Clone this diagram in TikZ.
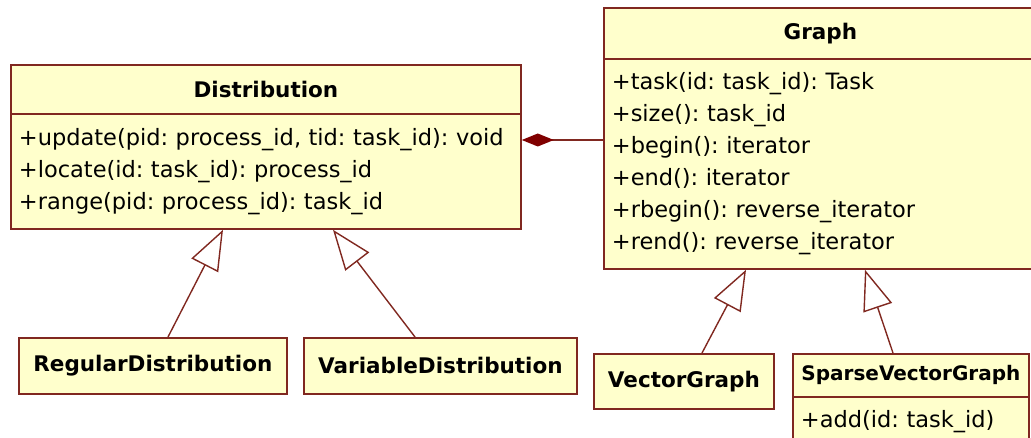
\documentclass[tikz,border=0pt]{standalone}
\usepackage{fontspec}
\setmainfont{DejaVu Sans}
\usetikzlibrary{arrows.meta}
\definecolor{umlborder}{RGB}{128,40,32}
\definecolor{umlfill}{RGB}{255,255,204}
\definecolor{umldiam}{RGB}{128,0,0}
\tikzset{
  box/.style={draw=umlborder, fill=umlfill, line width=1.8pt, inner sep=0pt, anchor=north west},
  titlebox/.style={box, font=\fontsize{21.5}{26}\selectfont\bfseries},
  bodybox/.style={box, align=left, inner xsep=8pt, inner ysep=0pt, font=\fontsize{22.5}{32}\selectfont\frenchspacing},
  genline/.style={draw=umlborder, line width=1.4pt, -{Triangle[open, length=40pt, width=30pt, fill=white]}},
  compline/.style={draw=umlborder, line width=1.4pt, -{Diamond[length=32pt, width=13pt, color=umldiam, fill=umldiam]}},
}
\frenchspacing
\begin{document}
\begin{tikzpicture}[x=1pt, y=-1pt]
\useasboundingbox (0,0) rectangle (1031,438);
\clip (0,0) rectangle (1031,438);
% Distribution
\node[bodybox, minimum height=115pt, text width=494pt] (dbody) at (10,113)
  {+update(pid: process\_id, tid: task\_id): void\\
   +locate(id: task\_id): process\_id\\
   +range(pid: process\_id): task\_id};
\node[titlebox, minimum width=510pt, minimum height=49pt] (dhead) at (10,64) {Distribution};
% Graph
\node[bodybox, minimum height=210pt, text width=417pt] (gbody) at (603,58)
  {+task(id: task\_id): Task\\
   +size(): task\_id\\
   +begin(): iterator\\
   +end(): iterator\\
   +rbegin(): reverse\_iterator\\
   +rend(): reverse\_iterator};
\node[titlebox, minimum width=433pt, minimum height=51pt] (ghead) at (603,7) {Graph};
% subclasses
\node[titlebox, minimum width=268pt, minimum height=56pt] (reg) at (18,337) {RegularDistribution};
\node[titlebox, minimum width=273pt, minimum height=56pt] (var) at (303,337) {VariableDistribution};
\node[titlebox, minimum width=180pt, minimum height=55pt] (vg) at (593,353) {VectorGraph};
\node[bodybox, minimum height=50pt, text width=220pt] (sbody) at (792,396) {+add(id: task\_id)};
\node[titlebox, minimum width=236pt, minimum height=43pt, font=\fontsize{20}{24}\selectfont\bfseries] (shead) at (792,353) {SparseVectorGraph};
% connectors
\coordinate (dcomp) at ([yshift=-27pt]dbody.north east);
\draw[compline] (gbody.west |- dcomp) -- (dcomp);
\draw[genline] ([xshift=150pt]reg.north west) -- ([xshift=213pt]dbody.south west);
\draw[genline] ([xshift=112pt]var.north west) -- ([xshift=323pt]dbody.south west);
\draw[genline] ([xshift=109pt]vg.north west) -- ([xshift=143pt]gbody.south west);
\draw[genline] ([xshift=101pt]shead.north west) -- ([xshift=262pt]gbody.south west);
\end{tikzpicture}
\end{document}
